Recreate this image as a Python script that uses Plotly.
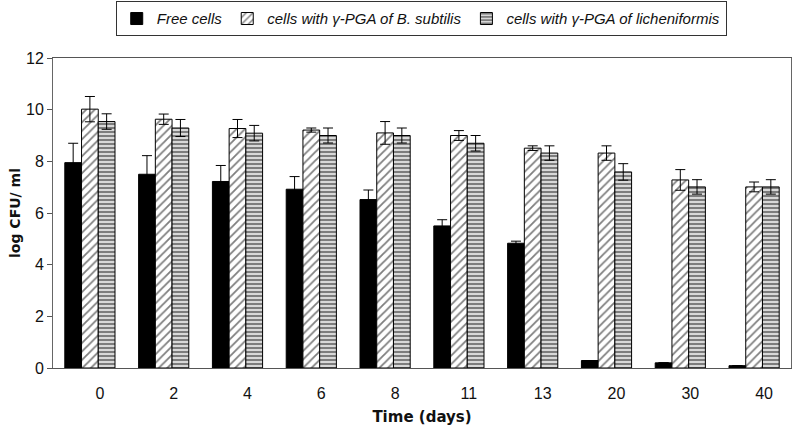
import plotly.graph_objects as go

days = ["0", "2", "4", "6", "8", "11", "13", "20", "30", "40"]
free_cells = [7.95, 7.5, 7.22, 6.92, 6.52, 5.5, 4.83, 0.29, 0.2, 0.09]
free_err = [0.75, 0.72, 0.62, 0.49, 0.37, 0.24, 0.08, 0, 0, 0]
bsub = [10.02, 9.63, 9.27, 9.21, 9.1, 9.0, 8.51, 8.32, 7.28, 7.01]
bsub_err = [0.49, 0.2, 0.35, 0.08, 0.44, 0.19, 0.09, 0.28, 0.4, 0.19]
lich = [9.54, 9.29, 9.09, 9.0, 9.0, 8.7, 8.32, 7.59, 7.01, 7.01]
lich_err = [0.3, 0.33, 0.3, 0.29, 0.29, 0.3, 0.28, 0.32, 0.28, 0.28]

names = ["Free cells", "cells with γ-PGA of B. subtilis", "cells with γ-PGA of licheniformis"]

fig = go.Figure()
fig.add_trace(go.Bar(
    x=days, y=free_cells, name=names[0],
    marker=dict(color="black", line=dict(color="black", width=1)),
    error_y=dict(type="data", array=free_err, visible=True, color="black", thickness=1, width=5),
))
fig.add_trace(go.Bar(
    x=days, y=bsub, name=names[1],
    marker=dict(color="white", line=dict(color="black", width=1),
                pattern=dict(shape="/", fgcolor="black", bgcolor="white", size=6, solidity=0.3)),
    error_y=dict(type="data", array=bsub_err, visible=True, color="black", thickness=1, width=5),
))
fig.add_trace(go.Bar(
    x=days, y=lich, name=names[2],
    marker=dict(color="#cccccc", line=dict(color="black", width=1),
                pattern=dict(shape="-", fgcolor="#222222", bgcolor="#d8d8d8", size=4, solidity=0.5)),
    error_y=dict(type="data", array=lich_err, visible=True, color="black", thickness=1, width=5),
))

title_font = "DejaVu Sans, Verdana, sans-serif"

fig.update_layout(
    width=792, height=431,
    margin=dict(l=53, r=1, t=58, b=63, autoexpand=False),
    plot_bgcolor="white", paper_bgcolor="white",
    barmode="group", bargap=0.32, bargroupgap=0,
    font=dict(family="Arial, Liberation Sans, sans-serif", size=14, color="#111"),
    legend=dict(
        orientation="h", x=0.085, xanchor="left", y=1.183, yanchor="top",
        bordercolor="#333", borderwidth=1,
        font=dict(size=15, style="italic", family="Arial, Liberation Sans, sans-serif"),
        itemwidth=30, tracegroupgap=0,
    ),
    xaxis=dict(
        title=dict(text="<b>Time (days)</b>", font=dict(size=15, family=title_font), standoff=10),
        type="category", showline=True, linecolor="#555", linewidth=1, mirror=True,
        ticks="", ticklabelshift=10, ticklabelstandoff=11,
        tickfont=dict(size=16), automargin=False,
    ),
    yaxis=dict(
        title=dict(text="<b>log CFU/ ml</b>", font=dict(size=14, family=title_font), standoff=2),
        range=[0, 12], dtick=2, showline=True, linecolor="#666", linewidth=1, mirror=True,
        ticks="outside", ticklen=5, tickcolor="#555", showgrid=False, zeroline=False,
        tickfont=dict(size=16), automargin=False,
    ),
)

fig.write_html("out.html", config={"displayModeBar": False},
               post_script="document.body.style.margin='0';")
